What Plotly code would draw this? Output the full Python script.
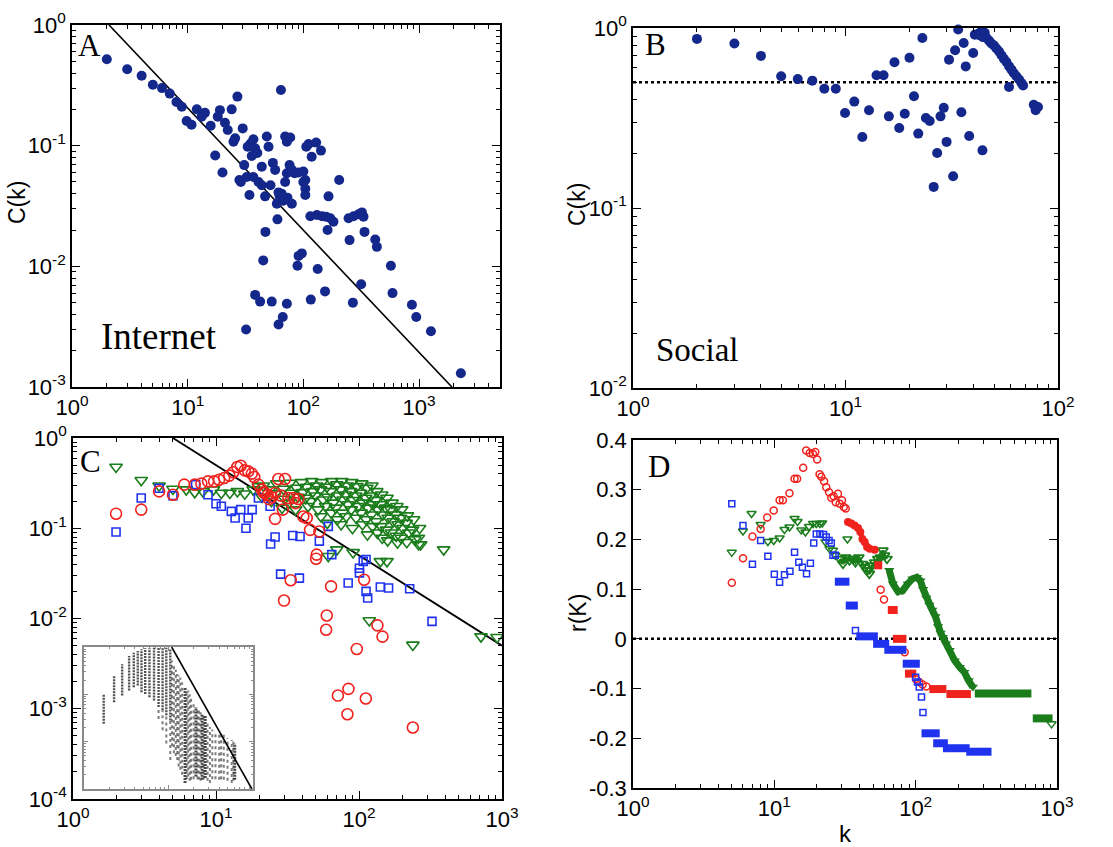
import plotly.graph_objects as go

W, H = 1113, 847

# ---------------- Panel A : Internet ----------------
a_k = [2.0, 3.0, 4.0, 5.0, 6.0, 7.0, 8.0, 8.9, 9.8, 10.8,
       12, 13.2, 14.1, 15.8, 17.3, 18.2, 19, 21, 22.2, 20,
       24, 26.9, 25.7, 24.9, 29.9, 28, 28.8, 30.8, 33, 35,
       37, 38.3, 34.2, 35.8, 40, 32.4, 37, 41, 43.7, 43.7,
       46.7, 50, 48.3, 52, 54.5, 57, 61, 65, 64, 69.6,
       72, 77, 69.6, 72, 76, 79.5, 81, 84, 91, 100,
       104, 100, 104, 104, 106, 111, 118, 129, 142, 62.4,
       67, 73, 79.5, 59, 59.7, 47, 115, 131, 145, 157,
       171, 182, 165, 204, 162, 246, 272, 300, 321, 331,
       251, 338, 418, 432, 571, 590, 316, 268, 868, 946,
       1268, 2300, 45, 38.3, 42.3, 53.3, 72, 66.4, 61, 32,
       91, 97, 89, 133, 116, 154]
a_C = [0.52, 0.43, 0.38, 0.32, 0.30, 0.27, 0.23, 0.21, 0.16, 0.149,
       0.20, 0.174, 0.187, 0.146, 0.083, 0.174, 0.197, 0.155, 0.135, 0.060,
       0.20, 0.255, 0.115, 0.108, 0.139, 0.052, 0.050, 0.069, 0.098, 0.104,
       0.113, 0.095, 0.039, 0.082, 0.087, 0.055, 0.055, 0.050, 0.067, 0.047,
       0.038, 0.098, 0.119, 0.047, 0.072, 0.063, 0.041, 0.040, 0.289, 0.119,
       0.108, 0.117, 0.050, 0.059, 0.069, 0.063, 0.061, 0.059, 0.060, 0.061,
       0.052, 0.050, 0.044, 0.039, 0.098, 0.103, 0.081, 0.106, 0.091, 0.038,
       0.035, 0.037, 0.033, 0.033, 0.0245, 0.0193, 0.026, 0.0266, 0.026, 0.0258,
       0.025, 0.0234, 0.038, 0.052, 0.020, 0.025, 0.026, 0.027, 0.028, 0.0258,
       0.0165, 0.0193, 0.0167, 0.0145, 0.0101, 0.0060, 0.0071, 0.0050, 0.0048, 0.0038,
       0.0029, 0.0013, 0.0112, 0.0058, 0.0051, 0.0051, 0.0049, 0.0038, 0.0033, 0.0030,
       0.0122, 0.0128, 0.0101, 0.0095, 0.0053, 0.0062]
a_fit_k = [2.09, 1924]
a_fit_C = [1.0, 0.001]

# ---------------- Panel B : Social ----------------
b_k = [2.0, 3.0, 4.0, 4.98, 5.96, 6.98, 7.95, 9.0, 9.95, 11.0,
       12.0, 12.9, 14.0, 15.1, 16.0, 17.0, 17.9, 19.0, 20.0, 21.0,
       22.0, 23.0, 23.9, 24.9, 26.0, 27.0, 28.0, 29.0, 29.9, 30.7,
       32.1, 32.8, 33.9, 35.1, 36.0, 36.8, 38.2, 39.9, 40.6, 44.1,
       42.1, 42.9, 43.6, 44.4, 45.2, 46.1, 47.4, 48.6, 50.0, 51.3,
       52.8, 54.2, 55.6, 57.2, 58.9, 60.4, 61.9, 63.7, 65.6, 67.3,
       68.5, 58.8, 76.9, 80.5, 78.5]
b_C = [0.87, 0.82, 0.70, 0.54, 0.52, 0.51, 0.46, 0.46, 0.337, 0.39,
       0.248, 0.349, 0.546, 0.546, 0.323, 0.645, 0.278, 0.334, 0.684, 0.418,
       0.259, 0.88, 0.316, 0.304, 0.131, 0.202, 0.323, 0.36, 0.233, 0.667,
       0.150, 0.752, 0.98, 0.34, 0.826, 0.612, 0.251, 0.726, 0.918, 0.209,
       0.93, 0.91, 0.96, 0.89, 0.94, 0.88, 0.85, 0.82, 0.80, 0.77,
       0.74, 0.705, 0.675, 0.647, 0.612, 0.587, 0.562, 0.539, 0.517, 0.495,
       0.48, 0.47, 0.375, 0.364, 0.349]
b_ref = 0.5

# ---------------- Panel C ----------------
c_red_k = [2.0, 3.0, 4.0, 5.0, 6.0, 7.1, 7.9, 8.8, 9.7, 10.5,
           11.4, 12.4, 13.2, 14.1, 14.9, 15.9, 16.8, 17.8, 18.5, 19.8,
           20.9, 22, 23, 24.5, 25.9, 27.3, 30.4, 25.9, 29.3, 32.1,
           34.8, 37.7, 40.8, 43.1, 45.5, 52.8, 50.6, 50.1, 33.3, 29.9,
           63.8, 59.5, 58.9, 108.6, 134.6, 146, 96.5, 71.2, 84.4, 83,
           111.6, 238, 21.5, 23.5, 28.5, 36]
c_red_C = [0.145, 0.161, 0.256, 0.235, 0.304, 0.304, 0.312, 0.331, 0.331, 0.345,
           0.36, 0.383, 0.417, 0.477, 0.493, 0.438, 0.427, 0.403, 0.37, 0.304,
           0.268, 0.246, 0.233, 0.222, 0.246, 0.351, 0.351, 0.127, 0.161, 0.216,
           0.216, 0.211, 0.135, 0.13, 0.096, 0.092, 0.051, 0.046, 0.0265, 0.0158,
           0.0227, 0.0108, 0.0075, 0.0269, 0.0084, 0.0063, 0.0046, 0.0014, 0.00166, 0.00087,
           0.0013, 0.00062, 0.25, 0.21, 0.23, 0.19]
c_blue_k = [2.0, 3.0, 4.0, 5.0, 7.2, 8.8, 10, 10.9, 12.8, 13.6,
            14.9, 16.2, 16.8, 17.9, 19.8, 23.9, 24.1, 25.9, 28.3, 34.4,
            38.7, 38.3, 52.8, 61, 64.5, 84, 100.7, 100.7, 107, 112,
            112, 115, 141, 161, 226, 324]
c_blue_C = [0.091, 0.216, 0.277, 0.23, 0.304, 0.235, 0.187, 0.175, 0.154, 0.13,
            0.161, 0.10, 0.13, 0.161, 0.216, 0.175, 0.067, 0.080, 0.031, 0.083,
            0.081, 0.028, 0.072, 0.105, 0.051, 0.0247, 0.036, 0.032, 0.043, 0.045,
            0.020, 0.0169, 0.0223, 0.0218, 0.0214, 0.0093]
c_green_k = [2.0, 3.0, 4.0, 5.0, 6.2, 7.1, 8.1, 9.6, 10.9, 12.5,
             14.1, 15.9, 18.2, 19.8, 21.4, 21.0, 23.9, 24.4, 26.6, 26.0,
             29.6, 30.2, 29.0, 32.9, 33.5, 32.3, 36.7, 37.4, 36.0, 39.7,
             40.5, 43.1, 42.3, 44.0, 46.7, 47.6, 45.9, 50.6, 49.6, 51.7,
             54.9, 53.9, 56.0, 54.2, 59.5, 60.6, 58.4, 60.0, 64.5, 63.3,
             65.8, 64.0, 69.9, 71.3, 68.6, 70.5, 75.9, 74.5, 77.4, 76.5,
             75.0, 82.2, 80.7, 83.8, 81.5, 89.1, 87.4, 90.9, 88.3, 90.0,
             96.6, 94.8, 98.5, 95.5, 104.6, 102.6, 106.7, 103.5, 105.8, 113.5,
             111.4, 115.8, 112.3, 114.6, 123, 120.7, 125.4, 121.8, 124.2, 133,
             130.5, 135.6, 131.7, 134.3, 144, 141.3, 146.8, 142.6, 145.4, 157,
             154, 160, 155.5, 158.6, 170, 166.8, 173.3, 168.3, 184, 180.5,
             187.6, 182.2, 185.8, 199, 195.2, 202.9, 197, 218, 213.9, 222.3,
             215.8, 241, 236.4, 245.7, 265, 260, 270,
             61, 70, 91, 141, 157, 391, 118, 238, 713, 923, 261]
c_green_C = [0.477, 0.34, 0.296, 0.272, 0.268, 0.25, 0.256, 0.268, 0.246, 0.246,
             0.256, 0.241, 0.268, 0.29, 0.296, 0.222, 0.268, 0.199, 0.312, 0.242,
             0.272, 0.211, 0.168, 0.317, 0.246, 0.191, 0.279, 0.222, 0.161, 0.322,
             0.25, 0.286, 0.216, 0.175, 0.331, 0.256, 0.199, 0.296, 0.229, 0.161,
             0.322, 0.268, 0.207, 0.135, 0.286, 0.222, 0.175, 0.114, 0.331, 0.256,
             0.191, 0.148, 0.304, 0.229, 0.168, 0.125, 0.331, 0.268, 0.207, 0.148,
             0.110, 0.296, 0.235, 0.183, 0.135, 0.322, 0.256, 0.204, 0.161, 0.10,
             0.291, 0.229, 0.175, 0.130, 0.312, 0.246, 0.191, 0.148, 0.110, 0.279,
             0.216, 0.168, 0.125, 0.085, 0.296, 0.229, 0.183, 0.141, 0.105, 0.256,
             0.204, 0.161, 0.119, 0.089, 0.235, 0.183, 0.141, 0.105, 0.078, 0.216,
             0.168, 0.130, 0.096, 0.073, 0.191, 0.161, 0.119, 0.089, 0.175, 0.141,
             0.110, 0.082, 0.069, 0.161, 0.130, 0.10, 0.078, 0.138, 0.114, 0.089,
             0.070, 0.125, 0.096, 0.075, 0.10, 0.078, 0.066,
             0.049, 0.058, 0.054, 0.043, 0.043, 0.058, 0.0095, 0.0051, 0.0063, 0.0062, 0.066]
c_fit_k = [5.0, 1000]
c_fit_C = [1.0, 0.005]

# inset of panel C: per-degree vertical stripes (k, lowest C, highest C)
ins_k = [1.71, 2.27, 2.83, 3.42, 3.88, 4.33, 4.79, 5.3, 5.95, 6.74, 7.63, 8.51, 9.42, 10.5]
ins_hi = [0.102, 0.247, 0.434, 0.648, 0.76, 0.824, 0.894, 0.94, 0.94, 0.97, 0.97, 0.94, 0.97, 0.894]
ins_lo = [0.024, 0.068, 0.094, 0.12, 0.141, 0.153, 0.111, 0.102, 0.087, 0.074, 0.054, 0.046, 0.036, 0.028]
cloud_k = [7.63, 8.51, 9.42, 10.5, 11.0, 11.6, 12.2, 12.7, 13.2, 13.8, 14.5, 15.7, 16.4, 17.1,
           17.8, 18.5, 19.8, 21.1, 22.0, 22.9, 24.0, 25.0, 26.0, 27.2, 29.0, 30.9, 33.0,
           36.0, 39.8, 42.0, 45.1, 50.0, 56.0, 58.5, 60.8]
cloud_hi = [0.054, 0.046, 0.036, 0.028, 0.52, 0.434, 0.33, 0.268, 0.25, 0.228, 0.18, 0.141, 0.13, 0.12,
            0.10, 0.087, 0.07, 0.054, 0.05, 0.046, 0.042, 0.039, 0.037, 0.036, 0.026, 0.0205, 0.018,
            0.016, 0.0149, 0.015, 0.0149, 0.012, 0.0108, 0.010, 0.0092]
cloud_lo = [0.03, 0.0175, 0.0092, 0.0041, 0.008, 0.00566, 0.005, 0.0041, 0.003, 0.00254, 0.002, 0.00134, 0.0016, 0.00184,
            0.0015, 0.00157, 0.0016, 0.00184, 0.0016, 0.00157, 0.0015, 0.00157, 0.0016, 0.0017, 0.0015, 0.00134, 0.0016,
            0.0016, 0.00157, 0.0016, 0.00157, 0.0015, 0.00134, 0.0015, 0.00157]
cloud_dense = [0, 0, 0, 0, 0, 0, 0, 0, 0, 0, 0, 1, 0, 0,
               0, 0, 0, 1, 0, 0, 0, 1, 0, 1, 0, 0, 0,
               0, 0, 0, 0, 0, 0, 0, 1]
ins_fit_k = [10.9, 97]
ins_fit_C = [1.0, 0.001]

# ---------------- Panel D ----------------
d_red_k = [5.0, 6.0, 7.0, 8.0, 8.9, 9.9, 10.9, 11.5, 12.8, 13.9,
           14.5, 16.0, 16.8, 17.8, 18.8, 19.5, 20.1, 20.9, 21.5, 22.5,
           23.3, 24.4, 25.3, 26.3, 27.2, 28.2, 29.0, 30.1, 31.0, 32.0,
           56.5, 59.7, 83.6, 100.5, 106, 112, 119]
d_red_r = [0.113, 0.162, 0.206, 0.221, 0.244, 0.258, 0.279, 0.279, 0.293, 0.322,
           0.322, 0.344, 0.379, 0.374, 0.372, 0.376, 0.361, 0.331, 0.326, 0.317,
           0.305, 0.295, 0.284, 0.287, 0.275, 0.292, 0.272, 0.279, 0.265, 0.262,
           0.099, 0.079, -0.027, -0.081, -0.087, -0.092, -0.096]
d_red_run_k = [33.2, 35.1, 37.0, 39.1, 40.6, 42.0, 43.6, 45.3, 47.3, 51.3]
d_red_run_r = [0.235, 0.232, 0.228, 0.223, 0.215, 0.201, 0.195, 0.185, 0.181, 0.179]
d_red_band_k0 = [51, 63.5, 69, 84, 125, 165]
d_red_band_k1 = [58, 74.6, 86, 101, 165, 246]
d_red_band_r = [0.148, 0.058, 0.0, -0.07, -0.101, -0.111]

d_blue_k = [5.0, 6.0, 7.0, 8.0, 9.0, 10.0, 10.9, 11.8, 12.9, 13.9,
            14.9, 15.8, 16.9, 18.0, 19.0, 19.8, 21.0, 22.3, 23.3, 24.4,
            25.3, 26.0, 27.0, 37.5, 100, 103, 106, 110, 112.6]
d_blue_r = [0.272, 0.228, 0.150, 0.198, 0.166, 0.130, 0.114, 0.129, 0.136, 0.174,
            0.154, 0.144, 0.131, 0.152, 0.193, 0.211, 0.211, 0.21, 0.205, 0.198,
            0.193, 0.168, 0.168, 0.017, -0.077, -0.087, -0.097, -0.117, -0.148]
d_blue_band_k0 = [26.8, 32, 38, 50, 60, 81, 110, 133, 156, 228]
d_blue_band_k1 = [34, 39, 54, 65, 86, 107, 148, 169, 241, 344]
d_blue_band_r = [0.115, 0.067, 0.005, -0.01, -0.022, -0.05, -0.19, -0.21, -0.22, -0.227]

d_green_k = [5.0, 6.0, 6.9, 8.0, 9.0, 9.9, 10.9, 11.8, 12.8, 13.9,
             14.6, 15.5, 16.6, 17.6, 18.8, 19.8, 21.0, 21.8, 23.0, 24.6,
             26.0, 27.0, 32.9, 915]
d_green_r = [0.174, 0.217, 0.252, 0.230, 0.196, 0.198, 0.203, 0.220, 0.225, 0.242,
             0.236, 0.219, 0.215, 0.226, 0.232, 0.232, 0.232, 0.233, 0.195, 0.181,
             0.178, 0.168, 0.201, -0.171]
d_green_mid_k = [29.0, 30.6, 32.0, 34.0, 36.0, 37.5, 39.6, 42.0, 43.6, 45.0,
                 47.0, 49.5, 51.3, 54.0, 56.5, 58.6, 60.2, 62.7]
d_green_mid_r = [0.161, 0.151, 0.164, 0.158, 0.161, 0.154, 0.164, 0.151, 0.144, 0.138,
                 0.131, 0.148, 0.154, 0.161, 0.164, 0.178, 0.168, 0.161]
d_green_run_k = [65, 69, 75, 81, 88, 95, 102, 108, 113, 119, 125, 131, 138, 144, 150,
                 156, 164, 174, 189, 205, 221, 237, 254]
d_green_run_r = [0.138, 0.111, 0.095, 0.097, 0.111, 0.121, 0.124, 0.117, 0.100, 0.082,
                 0.068, 0.058, 0.045, 0.025, 0.012, 0.003, -0.010, -0.023, -0.044,
                 -0.057, -0.067, -0.084, -0.097]
d_green_band_k0 = [262, 674]
d_green_band_k1 = [659, 930]
d_green_band_r = [-0.11, -0.16]
d_ref = 0.0

# ---------------- styling ----------------
NAVY = "#14288c"
RED = "#f0221e"
BLUE = "#1f33ee"
GREEN = "#1b7c1b"
SANS = "Liberation Sans, Arial, sans-serif"
SERIF = "Liberation Serif, Times New Roman, serif"


def dom(p0, p1, size, flip=False):
    if flip:
        return [1 - p1 / size, 1 - p0 / size]
    return [p0 / size, p1 / size]


def pw(lo, hi):
    return ["10<sup>%d</sup>" % e for e in range(lo, hi + 1)]


def minors(lo, hi):
    out = []
    for e in range(lo, hi):
        for m in range(2, 10):
            out.append(m * 10 ** e)
    return out


def log_axis(domain, rng, lo, hi, anchor, minor_hi=None, labels=True):
    mh = minor_hi if minor_hi is not None else hi
    return dict(type="log", domain=domain, range=rng, anchor=anchor, automargin=False,
                tickmode="array", tickvals=[10 ** e for e in range(lo, hi + 1)],
                ticktext=pw(lo, hi), showticklabels=labels,
                ticks="inside", ticklen=8, tickwidth=1.3, tickcolor="black",
                showline=True, linecolor="black", linewidth=1.6, mirror="allticks",
                showgrid=False, zeroline=False,
                tickfont=dict(family=SANS, size=22, color="black"),
                minor=dict(tickmode="array", tickvals=[v for v in minors(lo, mh)],
                           ticks="inside", ticklen=4, tickwidth=1, tickcolor="black",
                           showgrid=False))


def bands(k0s, k1s, rs):
    xs, ys = [], []
    for a, b, r in zip(k0s, k1s, rs):
        xs += [a, b, None]
        ys += [r, r, None]
    return xs, ys


def stripes(ks, los, his):
    xs, ys = [], []
    for k, lo, hi in zip(ks, los, his):
        xs += [k, k, None]
        ys += [lo, hi, None]
    return xs, ys


fig = go.Figure()

# Panel A
fig.add_trace(go.Scatter(x=a_fit_k, y=a_fit_C, mode="lines", xaxis="x", yaxis="y",
                         line=dict(color="black", width=1.6), showlegend=False))
fig.add_trace(go.Scatter(x=a_k, y=a_C, mode="markers", xaxis="x", yaxis="y",
                         marker=dict(color=NAVY, size=10, line=dict(width=0)),
                         cliponaxis=False, showlegend=False))

# Panel B
fig.add_trace(go.Scatter(x=[1, 100], y=[b_ref, b_ref], mode="lines", xaxis="x2", yaxis="y2",
                         line=dict(color="black", width=2.5, dash="dot"), showlegend=False))
fig.add_trace(go.Scatter(x=b_k, y=b_C, mode="markers", xaxis="x2", yaxis="y2",
                         marker=dict(color=NAVY, size=10, line=dict(width=0)),
                         cliponaxis=False, showlegend=False))

# Panel C
fig.add_trace(go.Scatter(x=c_fit_k, y=c_fit_C, mode="lines", xaxis="x3", yaxis="y3",
                         line=dict(color="black", width=1.8), showlegend=False))
fig.add_trace(go.Scatter(x=c_green_k, y=c_green_C, mode="markers", xaxis="x3", yaxis="y3",
                         marker=dict(symbol="triangle-down-open", color=GREEN, size=11,
                                     line=dict(width=1.6)), cliponaxis=False, showlegend=False))
fig.add_trace(go.Scatter(x=c_blue_k, y=c_blue_C, mode="markers", xaxis="x3", yaxis="y3",
                         marker=dict(symbol="square-open", color=BLUE, size=8,
                                     line=dict(width=1.6)), cliponaxis=False, showlegend=False))
fig.add_trace(go.Scatter(x=c_red_k, y=c_red_C, mode="markers", xaxis="x3", yaxis="y3",
                         marker=dict(symbol="circle-open", color=RED, size=11,
                                     line=dict(width=1.6)), cliponaxis=False, showlegend=False))

# Inset
lk = [k for k, d in zip(cloud_k, cloud_dense) if not d]
ll = [v for v, d in zip(cloud_lo, cloud_dense) if not d]
lh = [v for v, d in zip(cloud_hi, cloud_dense) if not d]
sx, sy = stripes(lk, ll, lh)
fig.add_trace(go.Scatter(x=sx, y=sy, mode="lines", xaxis="x5", yaxis="y5",
                         line=dict(color="rgba(80,80,80,0.75)", width=2, dash="dot"), showlegend=False))
dk = [k for k, d in zip(cloud_k, cloud_dense) if d]
dl = [v for v, d in zip(cloud_lo, cloud_dense) if d]
dh = [v for v, d in zip(cloud_hi, cloud_dense) if d]
sx, sy = stripes(dk, dl, dh)
fig.add_trace(go.Scatter(x=sx, y=sy, mode="lines", xaxis="x5", yaxis="y5",
                         line=dict(color="rgba(40,40,40,0.85)", width=3, dash="2px,1px"), showlegend=False))
sx, sy = stripes(ins_k, ins_lo, ins_hi)
fig.add_trace(go.Scatter(x=sx, y=sy, mode="lines", xaxis="x5", yaxis="y5",
                         line=dict(color="rgba(50,50,50,0.85)", width=2.4, dash="2px,1px"), showlegend=False))
fig.add_trace(go.Scatter(x=ins_fit_k, y=ins_fit_C, mode="lines", xaxis="x5", yaxis="y5",
                         line=dict(color="black", width=1.6), showlegend=False))

# Panel D
fig.add_trace(go.Scatter(x=[1, 1000], y=[d_ref, d_ref], mode="lines", xaxis="x4", yaxis="y4",
                         line=dict(color="black", width=2.5, dash="dot"), showlegend=False))
bx, by = bands(d_green_band_k0, d_green_band_k1, d_green_band_r)
fig.add_trace(go.Scatter(x=bx, y=by, mode="lines", xaxis="x4", yaxis="y4",
                         line=dict(color=GREEN, width=8), showlegend=False))
fig.add_trace(go.Scatter(x=d_green_run_k, y=d_green_run_r, mode="lines+markers", xaxis="x4", yaxis="y4",
                         line=dict(color=GREEN, width=7),
                         marker=dict(symbol="triangle-down", color=GREEN, size=9),
                         showlegend=False))
fig.add_trace(go.Scatter(x=d_green_mid_k, y=d_green_mid_r, mode="lines+markers", xaxis="x4", yaxis="y4",
                         line=dict(color=GREEN, width=3),
                         marker=dict(symbol="triangle-down-open", color=GREEN, size=9,
                                     line=dict(width=1.8)), showlegend=False))
fig.add_trace(go.Scatter(x=d_green_k, y=d_green_r, mode="markers", xaxis="x4", yaxis="y4",
                         marker=dict(symbol="triangle-down-open", color=GREEN, size=8,
                                     line=dict(width=1.5)), showlegend=False))
bx, by = bands(d_red_band_k0, d_red_band_k1, d_red_band_r)
fig.add_trace(go.Scatter(x=bx, y=by, mode="lines", xaxis="x4", yaxis="y4",
                         line=dict(color=RED, width=8), showlegend=False))
fig.add_trace(go.Scatter(x=d_red_run_k, y=d_red_run_r, mode="lines+markers", xaxis="x4", yaxis="y4",
                         line=dict(color=RED, width=5),
                         marker=dict(symbol="circle", color=RED, size=8), showlegend=False))
fig.add_trace(go.Scatter(x=d_red_k, y=d_red_r, mode="markers", xaxis="x4", yaxis="y4",
                         marker=dict(symbol="circle-open", color=RED, size=7,
                                     line=dict(width=1.5)), showlegend=False))
bx, by = bands(d_blue_band_k0, d_blue_band_k1, d_blue_band_r)
fig.add_trace(go.Scatter(x=bx, y=by, mode="lines", xaxis="x4", yaxis="y4",
                         line=dict(color=BLUE, width=8), showlegend=False))
fig.add_trace(go.Scatter(x=d_blue_k, y=d_blue_r, mode="markers", xaxis="x4", yaxis="y4",
                         marker=dict(symbol="square-open", color=BLUE, size=6,
                                     line=dict(width=1.5)), showlegend=False))

# axes
xa = log_axis(dom(72, 500, W), [0, 3.7], 0, 3, "y", minor_hi=4)
xa["minor"]["tickvals"] = [v for v in xa["minor"]["tickvals"] if v < 5000]
ya = log_axis(dom(25, 387, H, True), [-3, 0], -3, 0, "x")
xb = log_axis(dom(633, 1058, W), [0, 2], 0, 2, "y2")
yb = log_axis(dom(28, 388, H, True), [-2, 0], -2, 0, "x2")
xc = log_axis(dom(73, 502, W), [0, 3], 0, 3, "y3")
yc = log_axis(dom(438, 799, H, True), [-4, 0], -4, 0, "x3")
xd = log_axis(dom(633, 1057, W), [0, 3], 0, 3, "y4")
d_ticks = [-0.3, -0.2, -0.1, 0.0, 0.1, 0.2, 0.3, 0.4]
yd = dict(domain=dom(440, 788, H, True), range=[-0.3, 0.4], anchor="x4", automargin=False,
          tickmode="array", tickvals=d_ticks,
          ticktext=["-0.3", "-0.2", "-0.1", "0", "0.1", "0.2", "0.3", "0.4"],
          ticks="inside", ticklen=8, tickwidth=1.3, tickcolor="black",
          showline=True, linecolor="black", linewidth=1.6, mirror="allticks",
          showgrid=False, zeroline=False,
          tickfont=dict(family=SANS, size=22, color="black"))
xi = log_axis(dom(84, 253, W), [0, 2], 0, 2, "y5", labels=False)
yi = log_axis(dom(647, 789, H, True), [-3, 0], -3, 0, "x5", labels=False)
for ax in (xi, yi):
    ax.update(linecolor="#8a8a8a", linewidth=1.5, tickcolor="#8a8a8a", ticklen=4)
    ax["minor"].update(tickcolor="#8a8a8a", ticklen=2)


def P(px, py):
    return px / W, 1 - py / H


ann = []
for txt, (px, py), size, fam in [
    ("A", (89, 46), 31, SERIF), ("B", (655, 44), 31, SERIF),
    ("C", (90, 461), 31, SERIF), ("D", (659, 466), 31, SERIF),
    ("Internet", (159, 336), 37, SERIF), ("Social", (697, 350), 33, SERIF),
    ("k", (845, 833), 24, SANS),
]:
    x, y = P(px, py)
    ann.append(dict(text=txt, x=x, y=y, xref="paper", yref="paper", showarrow=False,
                    xanchor="center", yanchor="middle",
                    font=dict(family=fam, size=size, color="black")))
for txt, (px, py) in [("C(k)", (17, 203)), ("C(k)", (577, 205)), ("r(K)", (578, 613))]:
    x, y = P(px, py)
    ann.append(dict(text=txt, x=x, y=y, xref="paper", yref="paper", showarrow=False,
                    textangle=-90, xanchor="center", yanchor="middle",
                    font=dict(family=SANS, size=23, color="black")))

fig.update_layout(width=W, height=H, autosize=False,
                  margin=dict(l=0, r=0, t=0, b=0, autoexpand=False),
                  paper_bgcolor="white", plot_bgcolor="white",
                  xaxis=xa, yaxis=ya, xaxis2=xb, yaxis2=yb,
                  xaxis3=xc, yaxis3=yc, xaxis4=xd, yaxis4=yd,
                  xaxis5=xi, yaxis5=yi,
                  annotations=ann, showlegend=False)

fig.write_html("out.html")
